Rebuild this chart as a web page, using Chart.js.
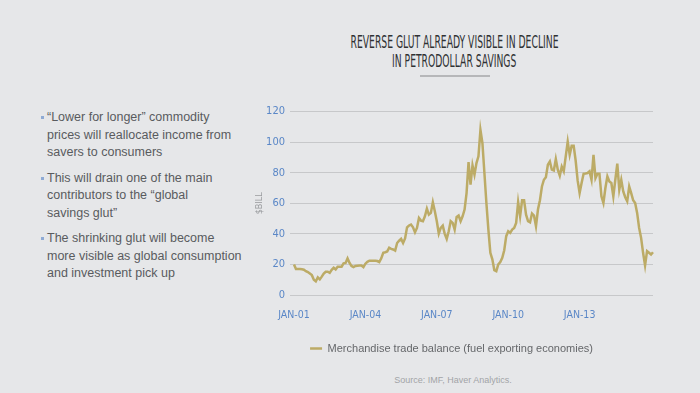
<!DOCTYPE html>
<html>
<head>
<meta charset="utf-8">
<script src="https://cdn.jsdelivr.net/npm/chart.js@4"></script>
<style>
  html, body { margin: 0; padding: 0; }
  body { width: 700px; height: 393px; background: #e6e7e9; position: relative; overflow: hidden; font-family: "Liberation Sans", Arial, sans-serif; }
  .title { position: absolute; left: 0; width: 908px; text-align: center; font-family: "Liberation Sans Narrow", "DejaVu Sans Condensed", sans-serif; font-size: 18px; color: #2f3133; line-height: 18px; white-space: nowrap; }
  .title span { display: inline-block; transform-origin: center; }
  .rule { position: absolute; left: 420px; top: 75px; width: 70px; height: 2px; background: #b6b7b9; }
  ul { position: absolute; left: 40px; top: 109px; margin: 0; padding: 0; list-style: none; }
  li { position: relative; padding-left: 7px; font-size: 12.5px; line-height: 17.5px; color: #595b5e; margin-bottom: 8px; white-space: nowrap; }
  li::before { content: ""; position: absolute; left: 1px; top: 7px; width: 3px; height: 3px; background: #8eaad4; }
  #wrap { position: absolute; left: 240px; top: 100px; width: 420px; height: 266px; }
  .source { position: absolute; left: 0; width: 906px; top: 375px; text-align: center; font-size: 9px; color: #a2a4a7; }
</style>
</head>
<body>
<div class="title" style="top:33px"><span id="t1">REVERSE GLUT ALREADY VISIBLE IN DECLINE</span></div>
<div class="title" style="top:52px"><span id="t2">IN PETRODOLLAR SAVINGS</span></div>
<div class="rule"></div>
<ul>
  <li>“Lower for longer” commodity<br>prices will reallocate income from<br>savers to consumers</li>
  <li>This will drain one of the main<br>contributors to the “global<br>savings glut”</li>
  <li>The shrinking glut will become<br>more visible as global consumption<br>and investment pick up</li>
</ul>
<div id="wrap"><canvas id="myChart"></canvas></div>
<div class="source">Source: IMF, Haver Analytics.</div>
<script>
// squeeze title lines to the condensed width of the original
[['t1', 208], ['t2', 124]].forEach(function (p) {
  var el = document.getElementById(p[0]);
  el.style.transform = 'scaleX(' + (p[1] / el.offsetWidth) + ')';
});

const startYear = 2001;
const tickLabels = ['JAN-01', 'JAN-04', 'JAN-07', 'JAN-10', 'JAN-13'];
const seriesName = 'Merchandise trade balance (fuel exporting economies)';

// monthly, Jan 2001 - Feb 2016, $ billion
const tradeBalance = [
  20, 17, 17, 17, 16.8, 16.5, 15.6, 15, 14, 13, 10, 9,
  11.5, 10.2, 12, 14, 15.2, 15.2, 14.5, 16.5, 17.8, 16.7, 18.5, 18.5,
  18.5, 20.7, 21, 24, 21, 19, 18.3, 19, 19.2, 19.3, 19.3, 18.3,
  20.5, 21.7, 22.4, 22.4, 22.4, 22.4, 22.2, 21.5, 24, 27.6, 28, 28.5,
  30.9, 30.2, 29.8, 29.1, 34, 35.5, 36.7, 34, 37, 44.3, 45.5, 46.1,
  44.3, 41, 43.9, 50.4, 48.7, 48.3, 51.5, 56.5, 52.6, 53.7, 60.7, 54.8,
  48.3, 40.2, 43.9, 45.4, 40, 36.7, 41.7, 48.3, 47.2, 42.8, 51, 52,
  48.3, 51.5, 55.9, 66.7, 87, 72.2, 84.8, 78.7, 86.3, 90.7, 108, 99.3,
  79.8, 60.2, 42.8, 27.6, 23.3, 16.3, 15.6, 20, 21.5, 24.3, 29.3, 38.5,
  41.7, 40.7, 42.8, 43.9, 47.2, 60.7, 51.5, 62, 62, 52.6, 48.3, 47.6,
  53.3, 52, 45, 55.9, 62, 71, 75.4, 77, 85.2, 87.4, 82, 81.5,
  89, 82, 78, 84, 80.9, 90.7, 100.4, 91.7, 97.6, 97.6, 88, 75,
  66.7, 73.3, 79.3, 79.5, 79.8, 80.9, 75.4, 91.7, 76.5, 79.3, 79.3, 64.6,
  60.2, 70, 77.6, 74.3, 73.3, 64.6, 75.4, 85.9, 68.9, 75.4, 67.8, 64,
  61.3, 71, 66.7, 62, 60.2, 53.7, 43.9, 37.4, 27.6, 19.3, 28.7, 27.6,
  26.5, 28
];

const monthNames = ['JAN','FEB','MAR','APR','MAY','JUN','JUL','AUG','SEP','OCT','NOV','DEC'];
const labels = tradeBalance.map(function (v, i) {
  var yr = (startYear + Math.floor(i / 12)) % 100;
  return monthNames[i % 12] + '-' + (yr < 10 ? '0' : '') + yr;
});

const narrow = "'Liberation Sans Narrow', 'DejaVu Sans Condensed', sans-serif";

var ctx = document.getElementById('myChart').getContext('2d');
var myChart = new Chart(ctx, {
  type: 'line',
  data: {
    labels: labels,
    datasets: [{
      label: seriesName,
      data: tradeBalance,
      borderColor: '#bcab66',
      backgroundColor: '#bcab66',
      borderWidth: 2.5,
      pointRadius: 0,
      pointStyle: 'line',
      tension: 0
    }]
  },
  options: {
    responsive: true,
    maintainAspectRatio: false,
    animation: false,
    layout: { padding: { top: 10, right: 7, left: 10, bottom: 2 } },
    plugins: {
      tooltip: { enabled: false },
      legend: {
        position: 'bottom',
        labels: {
          usePointStyle: true,
          pointStyleWidth: 12,
          boxHeight: 11,
          padding: 8,
          color: '#65676a',
          font: { family: "'Liberation Sans', sans-serif", size: 11 }
        }
      }
    },
    scales: {
      x: {
        grid: { display: false },
        border: { display: false },
        afterFit: function (s) { s.height = 40; },
        ticks: {
          autoSkip: false,
          maxRotation: 0,
          padding: 6,
          color: '#5a87c7',
          font: { family: narrow, size: 10.5 },
          callback: function (v, i) { return i % 36 === 0 ? tickLabels[i / 36] : null; }
        }
      },
      y: {
        min: 0,
        max: 120,
        border: { display: false },
        afterFit: function (s) { s.width = 44; },
        grid: { color: '#c7c8ca', lineWidth: 1, tickLength: 4 },
        title: {
          display: true,
          text: '$BILL',
          color: '#9a9c9f',
          padding: { top: 4, bottom: 0 },
          font: { family: narrow, size: 9 }
        },
        ticks: {
          stepSize: 20,
          padding: 5,
          color: '#5a87c7',
          font: { family: narrow, size: 11 }
        }
      }
    }
  }
});
</script>
</body>
</html>
